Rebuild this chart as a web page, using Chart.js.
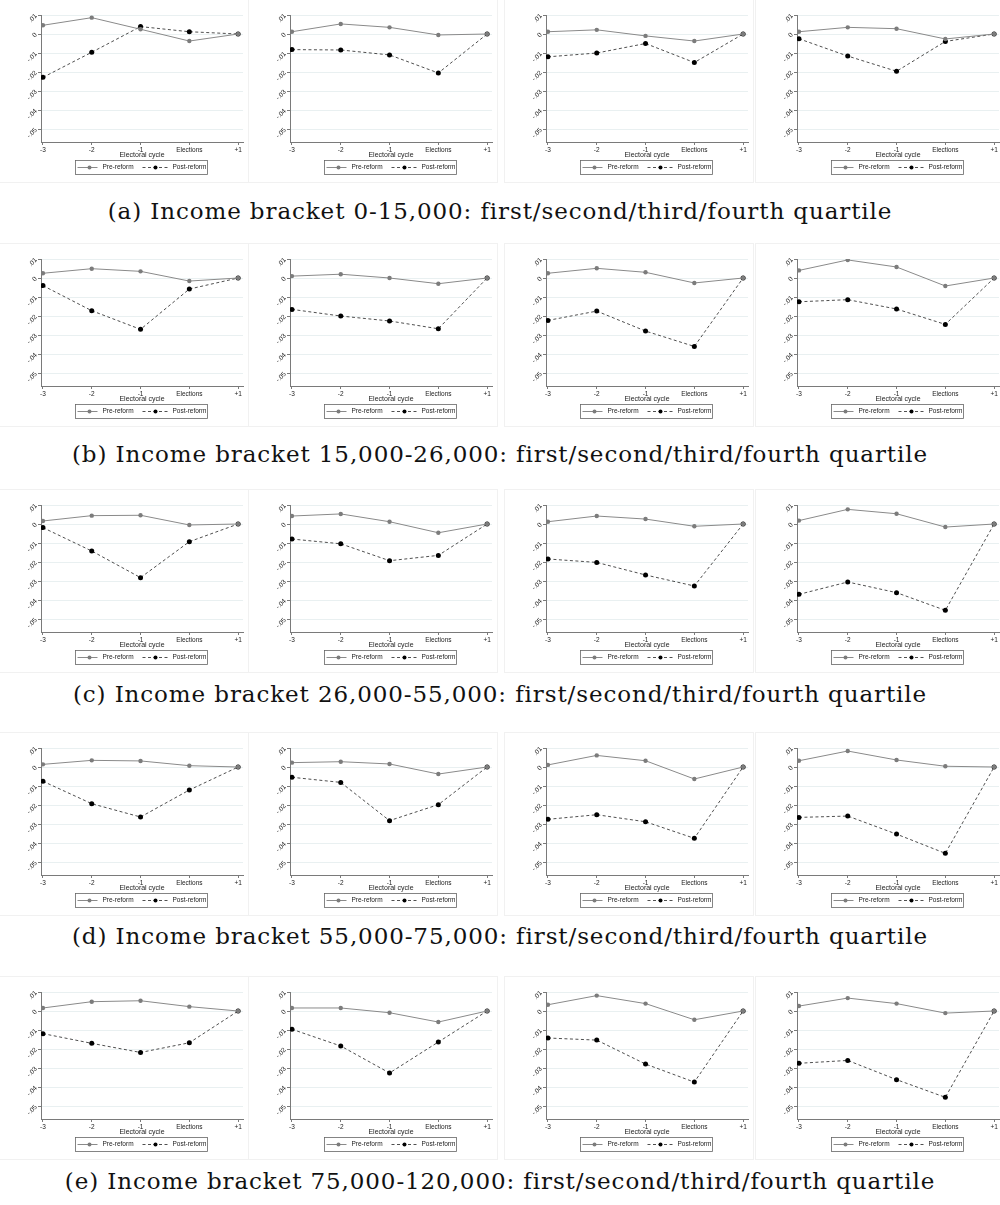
<!DOCTYPE html>
<html lang="en">
<head>
    <meta charset="UTF-8">
    <title>Electoral cycle by income bracket</title>
    <script src="https://cdn.jsdelivr.net/npm/chart.js"></script>
    <style>
        body {
            margin: 0;
            background: #fff;
        }
        .page {
            position: relative;
            width: 1000px;
            height: 1205px;
            overflow: hidden;
        }
        .panel {
            position: absolute;
            outline: 1px solid #f1f1f1;
        }
        .caption {
            position: absolute;
            left: 0;
            width: 1000px;
            text-align: center;
            font-family: "DejaVu Serif", serif;
            font-size: 23px;
            letter-spacing: 0.9px;
            line-height: 26px;
            color: #111;
        }
    </style>
</head>
<body>
<div class="page" id="page"></div>

<script>
    // x categories and y ticks (Stata style labels)
    const categories = ['-3', '-2', '-1', 'Elections', '+1'];
    const yTicks = [0.01, 0, -0.01, -0.02, -0.03, -0.04, -0.05];
    const seriesNames = ['Pre-reform', 'Post-reform'];

    // one array per quartile, rows a..e
    const preA = [
        [0.0046, 0.0086, 0.0025, -0.0037, 0],
        [0.0012, 0.0053, 0.0035, -0.0005, 0],
        [0.0012, 0.0022, -0.0010, -0.0037, 0],
        [0.0012, 0.0035, 0.0028, -0.0026, 0]
    ];
    const postA = [
        [-0.0228, -0.0096, 0.0039, 0.0012, 0],
        [-0.0082, -0.0084, -0.0110, -0.0205, 0],
        [-0.0120, -0.0100, -0.0050, -0.0150, 0],
        [-0.0025, -0.0116, -0.0196, -0.0039, 0]
    ];
    const preB = [
        [0.0025, 0.0049, 0.0035, -0.0016, 0],
        [0.0010, 0.0020, 0.0000, -0.0030, 0],
        [0.0025, 0.0051, 0.0030, -0.0026, 0],
        [0.0040, 0.0095, 0.0058, -0.0042, 0]
    ];
    const postB = [
        [-0.0040, -0.0172, -0.0270, -0.0058, 0],
        [-0.0165, -0.0200, -0.0226, -0.0267, 0],
        [-0.0223, -0.0174, -0.0279, -0.0360, 0],
        [-0.0125, -0.0114, -0.0163, -0.0244, 0]
    ];
    const preC = [
        [0.0016, 0.0044, 0.0046, -0.0005, 0],
        [0.0042, 0.0053, 0.0012, -0.0046, 0],
        [0.0012, 0.0042, 0.0026, -0.0012, 0],
        [0.0018, 0.0077, 0.0054, -0.0016, 0]
    ];
    const postC = [
        [-0.0019, -0.0142, -0.0282, -0.0093, 0],
        [-0.0079, -0.0104, -0.0193, -0.0165, 0],
        [-0.0184, -0.0202, -0.0268, -0.0326, 0],
        [-0.0370, -0.0305, -0.0361, -0.0454, 0]
    ];
    const preD = [
        [0.0014, 0.0035, 0.0032, 0.0007, 0],
        [0.0023, 0.0028, 0.0016, -0.0037, 0],
        [0.0011, 0.0061, 0.0033, -0.0063, 0],
        [0.0033, 0.0084, 0.0037, 0.0004, 0]
    ];
    const postD = [
        [-0.0075, -0.0193, -0.0263, -0.0121, 0],
        [-0.0054, -0.0081, -0.0282, -0.0198, 0],
        [-0.0275, -0.0251, -0.0288, -0.0375, 0],
        [-0.0265, -0.0258, -0.0353, -0.0454, 0]
    ];
    const preE = [
        [0.0016, 0.0049, 0.0054, 0.0023, 0],
        [0.0016, 0.0016, -0.0009, -0.0058, 0],
        [0.0033, 0.0081, 0.0039, -0.0046, 0],
        [0.0026, 0.0068, 0.0039, -0.0011, 0]
    ];
    const postE = [
        [-0.0119, -0.0170, -0.0218, -0.0167, 0],
        [-0.0096, -0.0184, -0.0326, -0.0163, 0],
        [-0.0142, -0.0153, -0.0279, -0.0374, 0],
        [-0.0275, -0.0260, -0.0361, -0.0454, 0]
    ];
    const captions = [
        '(a) Income bracket 0-15,000: first/second/third/fourth quartile',
        '(b) Income bracket 15,000-26,000: first/second/third/fourth quartile',
        '(c) Income bracket 26,000-55,000: first/second/third/fourth quartile',
        '(d) Income bracket 55,000-75,000: first/second/third/fourth quartile',
        '(e) Income bracket 75,000-120,000: first/second/third/fourth quartile'
    ];

    const rows = [[preA, postA], [preB, postB], [preC, postC], [preD, postD], [preE, postE]];

    // layout
    const rowTop = [0, 244, 490, 733, 977];
    const captionMid = [211, 454, 694, 936, 1181];
    const colLeft = [0, 249, 505, 756];
    const panelW = 248, panelH = 182;
    const tickFont = { family: '"Liberation Sans", Arial, sans-serif', size: 6.5 };
    const gridColor = '#e9f0f1';
    const axisColor = '#7a7a7a';

    function fmtY(v) {
        if (v === 0) return '0';
        return (v < 0 ? '-' : '') + String(Math.abs(v)).replace(/^0/, '');
    }

    // Stata-like boxed legend, centred under the plot area
    const boxedLegend = {
        id: 'boxedLegend',
        afterDraw(chart) {
            const ctx = chart.ctx;
            const a = chart.chartArea;
            const w = 132, h = 14;
            const x0 = Math.round((a.left + a.right) / 2 - w / 2 - 1) + 0.5;
            const y0 = 160.5;
            ctx.save();
            ctx.strokeStyle = '#666';
            ctx.lineWidth = 0.8;
            ctx.strokeRect(x0, y0, w, h);
            const midY = y0 + h / 2;
            chart.data.datasets.forEach((ds, i) => {
                const sx = x0 + 2 + i * 65;
                const len = i === 0 ? 20 : 25;
                ctx.strokeStyle = ds.borderColor;
                ctx.lineWidth = ds.borderWidth;
                ctx.setLineDash(ds.borderDash || []);
                ctx.beginPath();
                ctx.moveTo(sx, midY);
                ctx.lineTo(sx + len, midY);
                ctx.stroke();
                ctx.setLineDash([]);
                ctx.fillStyle = ds.pointBackgroundColor;
                ctx.beginPath();
                ctx.arc(sx + (i === 0 ? 12 : 13), midY, 2, 0, Math.PI * 2);
                ctx.fill();
                ctx.fillStyle = '#222';
                ctx.font = '6.5px "Liberation Sans", Arial, sans-serif';
                ctx.textBaseline = 'middle';
                ctx.fillText(ds.label, sx + len + 5, midY);
            });
            ctx.restore();
        }
    };

    function makePanel(pre, post, left, top) {
        const canvas = document.createElement('canvas');
        canvas.className = 'panel';
        canvas.width = panelW;
        canvas.height = panelH;
        canvas.style.left = left + 'px';
        canvas.style.top = top + 'px';
        document.getElementById('page').appendChild(canvas);

        new Chart(canvas.getContext('2d'), {
            type: 'line',
            data: {
                datasets: [
                    {
                        label: seriesNames[0],
                        data: pre.map((v, i) => ({ x: i, y: v })),
                        borderColor: '#8a8a8a',
                        borderWidth: 1,
                        pointBackgroundColor: '#7c7c7c',
                        pointBorderWidth: 0,
                        pointRadius: 2.2,
                        tension: 0
                    },
                    {
                        label: seriesNames[1],
                        data: post.map((v, i) => ({ x: i, y: v })),
                        borderColor: '#222',
                        borderWidth: 0.8,
                        borderDash: [3, 2.5],
                        pointBackgroundColor: '#000',
                        pointBorderWidth: 0,
                        pointRadius: 2.5,
                        tension: 0
                    }
                ]
            },
            options: {
                responsive: false,
                animation: false,
                devicePixelRatio: 1,
                layout: { padding: { top: 15, right: 5, bottom: 22, left: 0 } },
                plugins: {
                    legend: { display: false },
                    tooltip: { enabled: false }
                },
                scales: {
                    x: {
                        type: 'linear',
                        min: -0.04,
                        max: 4.1,
                        afterBuildTicks: (s) => { s.ticks = categories.map((c, i) => ({ value: i })); },
                        afterFit: (s) => { s.height = 18; },
                        grid: { drawOnChartArea: false, tickLength: 3, tickColor: axisColor },
                        border: { color: axisColor, width: 1 },
                        ticks: {
                            font: tickFont,
                            color: '#222',
                            padding: 1,
                            maxRotation: 0,
                            minRotation: 0,
                            callback: (v) => categories[v]
                        },
                        title: {
                            display: true,
                            text: 'Electoral cycle',
                            font: { family: tickFont.family, size: 7 },
                            color: '#222',
                            padding: { top: 0, bottom: 1 }
                        }
                    },
                    y: {
                        min: -0.0568,
                        max: 0.01,
                        afterBuildTicks: (s) => { s.ticks = yTicks.map(v => ({ value: v })); },
                        afterFit: (s) => { s.width = 41; },
                        grid: { color: gridColor, lineWidth: 1, tickLength: 3, tickColor: axisColor },
                        border: { color: axisColor, width: 1 },
                        ticks: {
                            font: tickFont,
                            color: '#222',
                            padding: 2,
                            minRotation: 45,
                            maxRotation: 45,
                            callback: (v) => fmtY(v)
                        }
                    }
                }
            },
            plugins: [boxedLegend]
        });
    }

    rows.forEach((pair, r) => {
        const [pre, post] = pair;
        for (let q = 0; q < 4; q++) {
            makePanel(pre[q], post[q], colLeft[q], rowTop[r]);
        }
        const cap = document.createElement('div');
        cap.className = 'caption';
        cap.style.top = (captionMid[r] - 13) + 'px';
        cap.textContent = captions[r];
        document.getElementById('page').appendChild(cap);
    });
</script>
</body>
</html>
